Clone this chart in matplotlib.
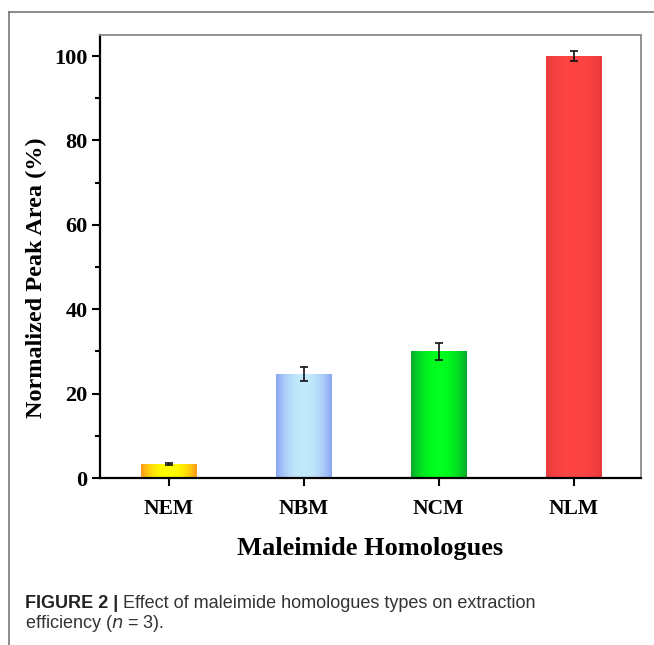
import numpy as np
import matplotlib
matplotlib.use("Agg")
import matplotlib.pyplot as plt
from matplotlib.lines import Line2D
from matplotlib.colors import to_rgb
from matplotlib.ticker import MultipleLocator

categories = ["NEM", "NBM", "NCM", "NLM"]
values = [3.3, 24.7, 30.0, 100.0]
errors = [0.3, 1.7, 2.1, 1.2]
edge_colors = ["#ff9a1a", "#8aa4f4", "#0aa82a", "#e83a3a"]
center_colors = ["#ffff00", "#c2eafc", "#00ff1e", "#ff4444"]
y_ticks = [0, 20, 40, 60, 80, 100]

W, H = 654, 645
fig = plt.figure(figsize=(W/100, H/100), dpi=100)
ax = fig.add_axes([100/W, 1-478/H, (641-100)/W, (478-35)/H])

x = np.arange(len(categories))
bars = ax.bar(x, values, width=0.41, color=center_colors, zorder=2)
for bar, ec, cc in zip(bars, edge_colors, center_colors):
    x0 = bar.get_x(); w = bar.get_width(); h = bar.get_height()
    t = np.linspace(-1, 1, 200)
    f = np.abs(t) ** 2.2
    e = np.array(to_rgb(ec)); c = np.array(to_rgb(cc))
    img = (c[None, :] * (1 - f[:, None]) + e[None, :] * f[:, None])[None, :, :]
    im = ax.imshow(img, extent=(x0, x0 + w, 0, h), aspect="auto", zorder=2.5,
                   interpolation="bilinear")
    im.set_clip_path(bar)
ax.errorbar(x, values, yerr=errors, fmt="none", ecolor="#111111", elinewidth=1.2,
            capsize=3, capthick=1.2, zorder=3)

ax.set_xlim(-0.51, 3.5)
ax.set_ylim(0, 105)
ax.set_xticks(x)
ax.set_xticklabels(categories)
ax.set_yticks(y_ticks)
ax.yaxis.set_minor_locator(MultipleLocator(10))

serif = ["Liberation Serif", "DejaVu Serif"]
for lab in ax.get_xticklabels():
    lab.set_fontfamily(serif); lab.set_fontweight("bold"); lab.set_fontsize(15.5)
for lab in ax.get_yticklabels():
    lab.set_fontfamily(serif); lab.set_fontweight("bold"); lab.set_fontsize(16)

ax.tick_params(axis="both", which="major", direction="out", length=6, width=1.5,
               color="black")
ax.tick_params(axis="y", which="major", pad=3)
ax.tick_params(axis="y", which="minor", direction="out", length=3.6, width=1.5)
ax.tick_params(axis="x", pad=9)

for s in ["left", "bottom"]:
    ax.spines[s].set_linewidth(1.6)
    ax.spines[s].set_color("black")
for s in ["top", "right"]:
    ax.spines[s].set_linewidth(1.3)
    ax.spines[s].set_color("#8a8a8a")

fig.text(36/W, 1-278/H, "Normalized Peak Area (%)", fontfamily=serif,
         fontweight="bold", fontsize=17.5, rotation=90, ha="center", va="center")
ax.set_xlabel("Maleimide Homologues", fontfamily=serif, fontweight="bold",
              fontsize=19, labelpad=13)

# outer frame
fig.add_artist(Line2D([9/W, 9/W], [0, 1-12/H], transform=fig.transFigure,
                      color="#777777", lw=1.2))
fig.add_artist(Line2D([9/W, 1], [1-12/H, 1-12/H], transform=fig.transFigure,
                      color="#777777", lw=1.2))

sans = ["Liberation Sans", "DejaVu Sans"]
fig.text(25/W, 1-603/H, "FIGURE 2 |", fontfamily=sans, fontweight="bold",
         fontsize=13, va="center", ha="left", color="#222222")
fig.text(123/W, 1-603/H, "Effect of maleimide homologues types on extraction",
         fontfamily=sans, fontsize=13, va="center", ha="left", color="#333333")
fig.text(25/W, 1-624/H, r"efficiency ($\it{n}$ = 3).", fontfamily=sans,
         fontsize=13, va="center", ha="left", color="#333333")

fig.savefig("out.png", dpi=100)
